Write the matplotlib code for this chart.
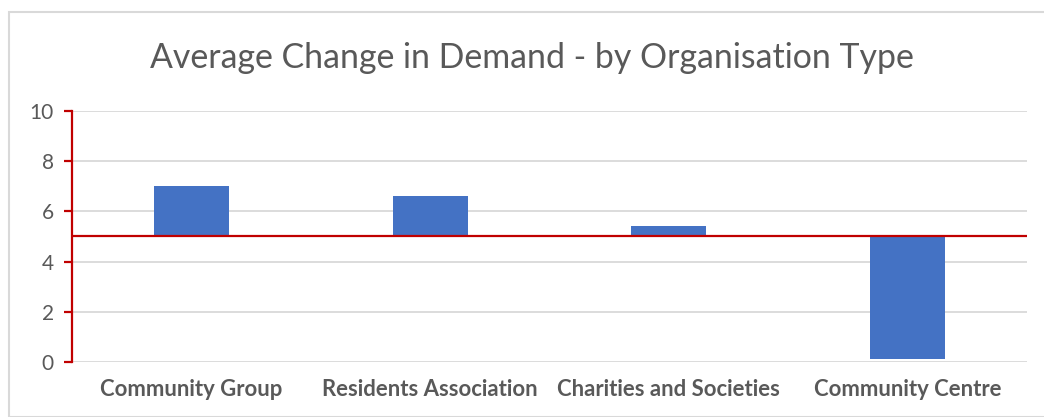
import matplotlib.pyplot as plt
from matplotlib.patches import Rectangle

categories = ['Community Group', 'Residents Association', 'Charities and Societies', 'Community Centre']
values = [7.0, 6.6, 5.4, 0.1]
baseline = 5
yticks = [0, 2, 4, 6, 8, 10]

plt.rcParams['font.family'] = ['Lato', 'DejaVu Sans']

fig = plt.figure(figsize=(10.44, 4.17), dpi=100)
ax = fig.add_axes([72 / 1044, 1 - 362 / 417, (1027 - 72) / 1044, (362 - 111) / 417])

# chart area border
fig.patches.append(Rectangle((8.5 / 1044, 0), 1.2, 1 - 12 / 417, transform=fig.transFigure,
                             fill=False, edgecolor='#d9d9d9', linewidth=1.5))

x = range(len(categories))
heights = [v - baseline for v in values]
ax.bar(x, heights, bottom=baseline, width=0.315, color='#4472C4', zorder=3)

ax.set_xlim(-0.5, len(categories) - 0.5)
ax.set_ylim(0, 10)
ax.set_yticks(yticks)
ax.set_yticklabels([str(t) for t in yticks], fontsize=15, color='#595959')
ax.yaxis.grid(True, color='#d9d9d9', linewidth=1.3, zorder=0)
ax.set_axisbelow(True)

ax.axhline(baseline, color='#c00000', linewidth=1.6, zorder=4)

for s in ['top', 'right', 'bottom']:
    ax.spines[s].set_visible(False)
ax.spines['left'].set_color('#c00000')
ax.spines['left'].set_linewidth(1.6)
ax.tick_params(axis='y', colors='#c00000', length=6, width=1.6, direction='out', labelcolor='#595959', pad=7)

ax.set_xticks(list(x))
ax.set_xticklabels(categories, fontsize=15.9, fontweight='bold', color='#595959')
ax.tick_params(axis='x', length=0, pad=12)

fig.text(532 / 1044, 1 - 58 / 417, 'Average Change in Demand - by Organisation Type',
         ha='center', va='center', fontsize=24.4, color='#595959')

fig.savefig('out.png', dpi=100)
